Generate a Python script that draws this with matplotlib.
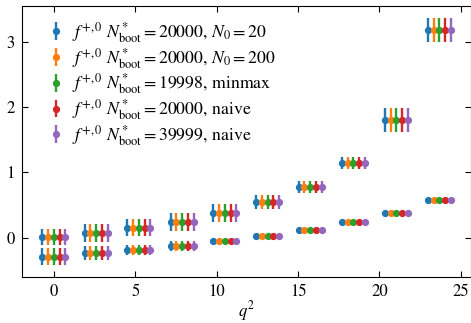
import matplotlib
matplotlib.use("Agg")
import matplotlib.pyplot as plt
import numpy as np

plt.rcParams['font.family'] = ['STIXGeneral', 'DejaVu Serif']
plt.rcParams['mathtext.fontset'] = 'stix'
plt.rcParams['font.size'] = 12

# q^2 values of the ten groups
q2 = [0.0, 2.6, 5.22, 7.88, 10.5, 13.13, 15.75, 18.4, 21.05, 23.68]
# upper row (f+) and lower row (f0)
fplus = [0.01, 0.067, 0.153, 0.245, 0.373, 0.541, 0.78, 1.147, 1.80, 3.176]
fplus_err = [0.12, 0.14, 0.13, 0.14, 0.135, 0.105, 0.09, 0.09, 0.185, 0.18]
fzero = [-0.29, -0.229, -0.188, -0.127, -0.05, 0.031, 0.118, 0.235, 0.382, 0.571]
fzero_err = [0.13, 0.107, 0.08, 0.07, 0.02, 0.012, 0.01, 0.01, 0.012, 0.012]

labels = [
    r'$f^{+,0}\ N^*_{\rm boot}=20000$, $N_0=20$',
    r'$f^{+,0}\ N^*_{\rm boot}=20000$, $N_0=200$',
    r'$f^{+,0}\ N^*_{\rm boot}=19998$, minmax',
    r'$f^{+,0}\ N^*_{\rm boot}=20000$, naive',
    r'$f^{+,0}\ N^*_{\rm boot}=39999$, naive',
]
colors = ['#1f77b4', '#ff7f0e', '#2ca02c', '#d62728', '#9467bd']

fig = plt.figure(figsize=(4.71, 3.23), dpi=100)
ax = fig.add_axes([22/471, 1 - 277.3/323, (470.5-22)/471, (277.3-6)/323])

step = 0.353
for i, (lab, c) in enumerate(zip(labels, colors)):
    x = np.array(q2) + (i - 2) * step
    ax.errorbar(x, fplus, yerr=fplus_err, fmt='o', color=c, ms=4.2, elinewidth=1.7,
                capsize=0, label=lab)
    ax.errorbar(x, fzero, yerr=fzero_err, fmt='o', color=c, ms=4.2, elinewidth=1.7,
                capsize=0)

ax.set_xlim(-1.96, 25.6)
ax.set_ylim(-0.606, 3.545)
ax.set_xticks([0, 5, 10, 15, 20, 25])
ax.set_yticks([0, 1, 2, 3])
ax.tick_params(direction='in', top=True, right=True, length=4, width=0.8, pad=5)
ax.set_xlabel(r'$q^2$', labelpad=-1)

ax.legend(loc='upper left', frameon=False, handlelength=0.9, handletextpad=0.45,
          labelspacing=0.05, bbox_to_anchor=(0.03, 0.995), borderaxespad=0.3,
          fontsize=12.8)

fig.savefig('out.png', dpi=100)
